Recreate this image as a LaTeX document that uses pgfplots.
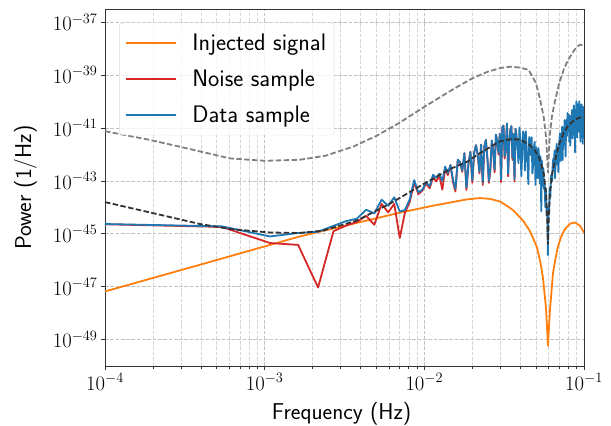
\documentclass[border=0pt]{standalone}
\usepackage{pgfplots}
\pgfplotsset{compat=1.18}
\usepackage{pgfplotstable}
\definecolor{tabblue}{HTML}{1F77B4}
\definecolor{taborange}{HTML}{FF7F0E}
\definecolor{tabred}{HTML}{D62728}

\pgfplotstableread{
f P
1e-4 6.61e-48
3.94e-4 6.76e-47
1.66e-3 7.94e-46
4.35e-3 3.16e-45
7.05e-3 6.31e-45
1.13e-2 1.15e-44
1.5e-2 1.58e-44
1.85e-2 2.00e-44
2.23e-2 2.24e-44
2.58e-2 2.09e-44
2.98e-2 1.66e-44
3.3e-2 1.12e-44
3.59e-2 7.94e-45
4.15e-2 3.16e-45
4.59e-2 1.26e-45
5.07e-2 3.16e-46
5.3e-2 1.0e-46
5.53e-2 2.24e-47
5.78e-2 1.58e-48
5.9e-2 1.58e-49
5.95e-2 5.89e-50
6.0e-2 1.58e-49
6.12e-2 1.26e-48
6.39e-2 3.16e-47
6.6e-2 1.0e-46
6.85e-2 3.09e-46
7.2e-2 7.94e-46
7.6e-2 1.51e-45
8.17e-2 2.40e-45
8.78e-2 2.69e-45
9.44e-2 2.00e-45
0.1 1.12e-45
}\signal

\pgfplotstableread{
f P
1e-4 2.29e-45
0.00054 1.82e-45
0.00108 4.47e-46
0.00162 3.80e-46
0.00216 9.33e-48
0.0027 1.26e-45
0.00324 2.04e-45
0.00378 2.82e-45
0.00432 4.79e-45
0.00486 2.19e-45
0.0054 1.35e-44
0.00594 6.46e-45
0.00648 1.35e-44
0.00702 6.92e-46
0.00756 6.31e-45
0.0081 1.58e-44
0.00864 8.71e-44
0.00918 3.16e-44
0.00972 4.27e-44
0.01026 7.94e-44
0.0108 5.25e-44
0.01134 1.35e-43
0.01188 9.55e-44
0.01242 1.58e-43
0.01296 4.68e-44
0.0135 2.82e-43
0.01404 1.66e-43
0.01458 3.98e-43
0.01512 9.0e-44
0.01566 4.0e-44
0.0162 6.31e-43
0.01674 5.01e-43
0.01728 2.2e-43
0.01782 1.12e-42
0.01836 4.5e-44
0.0189 4.47e-43
0.01944 1.26e-42
0.01998 8.5e-44
0.02052 1.17e-42
0.02106 2.24e-42
0.0216 9.55e-43
0.02214 1.9e-43
0.02268 2.34e-42
0.02322 7.0e-44
0.02376 2.00e-42
0.0243 3.55e-42
0.02484 6.5e-43
0.02538 8.5e-44
0.02592 2.6e-43
0.02646 3.39e-42
0.027 1.32e-42
0.02754 2.1e-43
0.02808 5.62e-42
0.02862 3.16e-42
0.02916 1.0e-42
0.0297 6.03e-42
0.03024 9.0e-44
0.03078 1.05e-41
0.03132 1.23e-41
0.03186 7.0e-43
0.0324 2.24e-42
0.03294 1.48e-41
0.03348 1.5e-43
0.03402 2.95e-42
0.03456 8.32e-42
0.0351 1.17e-41
0.03564 6.2e-43
0.03618 5.89e-42
0.03672 9.5e-44
0.03726 9.33e-42
0.0378 5.25e-42
}\noise

\pgfplotstableread{
f P
1e-4 2.34e-45
0.00054 1.91e-45
0.00108 7.94e-46
0.00162 1.07e-45
0.00216 1.20e-45
0.0027 2.00e-45
0.00324 3.02e-45
0.00378 3.72e-45
0.00432 8.13e-45
0.00486 5.89e-45
0.0054 1.95e-44
0.00594 1.15e-44
0.00648 2.40e-44
0.00702 6.92e-45
0.00756 7.94e-45
0.0081 2.00e-44
0.00864 1.07e-43
0.00918 3.72e-44
0.00972 4.68e-44
0.01026 8.91e-44
0.0108 6.31e-44
0.01134 1.70e-43
0.01188 1.32e-43
0.01242 1.86e-43
0.01296 1.00e-43
0.0135 3.47e-43
0.01404 2.00e-43
0.01458 3.98e-43
0.01512 1.12e-43
0.01566 5.01e-44
0.0162 6.31e-43
0.01674 5.01e-43
0.01728 2.51e-43
0.01782 1.12e-42
0.01836 5.62e-44
0.0189 4.47e-43
0.01944 1.26e-42
0.01998 1.05e-43
0.02052 1.17e-42
0.02106 2.24e-42
0.0216 9.55e-43
0.02214 2.24e-43
0.02268 2.34e-42
0.02322 8.91e-44
0.02376 2.00e-42
0.0243 3.55e-42
0.02484 7.41e-43
0.02538 1.00e-43
0.02592 3.16e-43
0.02646 3.39e-42
0.027 1.32e-42
0.02754 2.63e-43
0.02808 5.62e-42
0.02862 3.16e-42
0.02916 1.17e-42
0.0297 6.03e-42
0.03024 1.12e-43
0.03078 1.05e-41
0.03132 1.23e-41
0.03186 8.51e-43
0.0324 2.24e-42
0.03294 1.48e-41
0.03348 1.86e-43
0.03402 2.95e-42
0.03456 8.32e-42
0.0351 1.17e-41
0.03564 7.41e-43
0.03618 5.89e-42
0.03672 1.17e-43
0.03726 9.33e-42
0.0378 5.25e-42
0.03834 1.86e-42
0.03888 4.68e-43
0.03942 1.05e-41
0.03996 3.31e-42
0.0405 1.48e-43
0.04104 1.17e-42
0.04158 7.41e-42
0.04212 5.01e-42
0.04266 2.45e-43
0.0432 7.59e-42
0.04374 1.82e-42
0.04428 4.37e-43
0.04482 7.59e-44
0.04536 4.57e-42
0.0459 2.82e-42
0.04644 9.55e-43
0.04698 4.47e-42
0.04752 1.91e-43
0.04806 4.17e-43
0.0486 2.00e-42
0.04914 3.02e-42
0.04968 7.08e-44
0.05022 1.86e-42
0.05076 6.76e-43
0.0513 1.26e-43
0.05184 1.74e-42
0.05238 7.08e-43
0.05292 7.94e-44
0.05346 8.51e-43
0.054 7.08e-45
0.05454 5.62e-43
0.05508 7.08e-44
0.05562 3.02e-43
0.05616 5.01e-44
0.0567 7.94e-44
0.05724 1.00e-44
0.05778 5.01e-44
0.05832 5.01e-45
0.05886 1.00e-44
0.0594 1.58e-46
0.05994 6.31e-45
0.06048 6.31e-45
0.06102 5.62e-44
0.06156 2.51e-44
0.0621 1.58e-43
0.06264 1.00e-43
0.06318 1.00e-43
0.06372 4.47e-43
0.06426 7.08e-43
0.0648 2.51e-43
0.06534 1.41e-42
0.06588 1.26e-43
0.06642 5.01e-43
0.06696 1.41e-42
0.0675 2.51e-42
0.06804 4.07e-43
0.06858 1.86e-42
0.06912 2.14e-43
0.06966 1.41e-42
0.0702 3.89e-42
0.07074 6.31e-42
0.07128 5.62e-43
0.07182 4.47e-42
0.07236 1.58e-42
0.0729 1.12e-41
0.07344 6.03e-43
0.07398 3.47e-42
0.07452 1.05e-41
0.07506 2.29e-42
0.0756 2.00e-41
0.07614 4.37e-42
0.07668 8.32e-43
0.07722 9.55e-42
0.07776 2.04e-41
0.0783 5.01e-42
0.07884 3.72e-41
0.07938 7.76e-42
0.07992 1.82e-41
0.08046 3.16e-41
0.081 3.02e-42
0.08154 1.17e-41
0.08208 2.14e-42
0.08262 2.82e-41
0.08316 7.24e-42
0.0837 1.74e-41
0.08424 4.79e-41
0.08478 4.07e-42
0.08532 3.72e-41
0.08586 1.10e-41
0.0864 7.08e-41
0.08694 2.95e-41
0.08748 7.24e-42
0.08802 1.20e-42
0.08856 4.90e-41
0.0891 1.58e-41
0.08964 1.02e-40
0.09018 1.05e-41
0.09072 4.37e-42
0.09126 4.27e-41
0.0918 7.94e-41
0.09234 2.82e-41
0.09288 7.24e-42
0.09342 1.02e-40
0.09396 4.68e-41
0.0945 1.48e-41
0.09504 3.02e-42
0.09558 6.76e-41
0.09612 1.91e-41
0.09666 7.76e-41
0.0972 3.89e-41
0.09774 9.77e-42
0.09828 2.51e-42
0.09882 6.31e-41
0.09936 1.58e-41
0.0999 5.01e-41
}\data

\pgfplotstableread{
f P
1e-4 7.59e-42
1.91e-4 3.55e-42
3.0e-4 1.91e-42
6.07e-4 7.08e-43
1.0e-3 5.75e-43
1.66e-3 6.31e-43
2.4e-3 8.91e-43
3.6e-3 2.00e-42
5.0e-3 5.01e-42
7.0e-3 1.58e-41
1.0e-2 6.31e-41
1.5e-2 2.82e-40
2.0e-2 7.59e-40
2.5e-2 1.35e-39
3.0e-2 1.86e-39
3.5e-2 2.09e-39
4.0e-2 1.91e-39
4.5e-2 1.58e-39
5.0e-2 5.01e-40
5.3e-2 1.26e-40
5.6e-2 2.51e-41
5.8e-2 3.98e-42
5.95e-2 2.00e-43
6.1e-2 5.01e-42
6.3e-2 2.82e-41
6.6e-2 1.12e-40
7.0e-2 5.01e-40
7.5e-2 1.78e-39
8.0e-2 3.98e-39
8.7e-2 8.91e-39
9.4e-2 1.41e-38
0.1 1.32e-38
}\upper

\pgfplotstableread{
f P
1e-4 1.58e-44
2e-4 6.03e-45
3.94e-4 2.34e-45
6.07e-4 1.51e-45
1.08e-3 1.12e-45
1.66e-3 1.07e-45
2.32e-3 1.32e-45
3.78e-3 3.16e-45
6.09e-3 1.38e-44
1.0e-2 7.94e-44
1.45e-2 2.82e-43
1.85e-2 5.25e-43
2.23e-2 1.12e-42
2.98e-2 3.16e-42
3.44e-2 3.72e-42
3.97e-2 3.72e-42
4.59e-2 2.24e-42
4.93e-2 1.41e-42
5.30e-2 6.31e-43
5.61e-2 1.78e-43
5.80e-2 2.51e-44
5.90e-2 2.51e-45
5.95e-2 3.98e-46
6.00e-2 2.51e-45
6.10e-2 2.51e-44
6.30e-2 1.78e-43
6.60e-2 6.31e-43
7.00e-2 2.51e-42
7.50e-2 7.08e-42
8.00e-2 1.26e-41
8.70e-2 2.00e-41
9.40e-2 2.51e-41
0.1 2.51e-41
}\model

\begin{document}
\begin{tikzpicture}
\path[use as bounding box] (-105bp,-60bp) rectangle (506bp,366bp);
\begin{axis}[
  scale only axis, width=479bp, height=357bp,
  xmode=log, ymode=log,
  xmin=1e-4, xmax=1e-1, ymin=1e-50, ymax=3.16e-37,
  xtick={1e-4,1e-3,1e-2,1e-1},
  ytick={1e-49,1e-47,1e-45,1e-43,1e-41,1e-39,1e-37},
  yminorticks=false,
  tick align=outside, tick pos=left,
  major tick length=4bp, minor tick length=2.5bp,
  xmajorgrids=true, xminorgrids=true, ymajorgrids=true, yminorgrids=false,
  major grid style={dash pattern=on 3.7bp off 1.6bp, black!24, line width=0.7bp},
  minor grid style={dash pattern=on 3.7bp off 1.6bp, black!16, line width=0.7bp},
  axis line style={black!80, line width=0.9bp},
  every tick/.style={black!80, line width=0.8bp},
  tick label style={font=\fontsize{21.7}{25}\selectfont},
  xlabel={Frequency (Hz)}, ylabel={Power (1/Hz)},
  label style={font=\sffamily\fontsize{23}{27}\selectfont},
  xlabel style={at={(axis description cs:0.494,-0.100)}, anchor=north, inner sep=0pt},
  ylabel style={at={(axis description cs:-0.142,0.5)}, anchor=south, inner sep=0pt},
  legend cell align=left,
  legend image code/.code={\draw[#1] (0bp,0bp) -- (50bp,0bp);},
  legend style={at={(axis description cs:0.03,0.962)}, anchor=north west,
    draw=black!15, rounded corners=3bp, fill=white, fill opacity=0.8, text opacity=1,
    font=\sffamily\fontsize{24}{28}\selectfont,
    inner xsep=6bp, inner ysep=9bp, /tikz/row sep=14bp, /tikz/column sep=13bp,
    nodes={inner sep=2bp, anchor=west}},
]
\addplot[taborange, line width=1.8bp, line join=round] table {\signal};
\addlegendentry{Injected signal}
\addplot[tabred, line width=1.8bp, line join=round] table {\noise};
\addlegendentry{Noise sample}
\addplot[tabblue, line width=1.8bp, line join=round] table {\data};
\addlegendentry{Data sample}
\addplot[black!50, line width=1.8bp, dash pattern=on 5.5bp off 2.4bp, forget plot] table {\upper};
\addplot[black!80, line width=1.8bp, dash pattern=on 5.5bp off 2.4bp, forget plot] table {\model};
\end{axis}
\end{tikzpicture}
\end{document}
